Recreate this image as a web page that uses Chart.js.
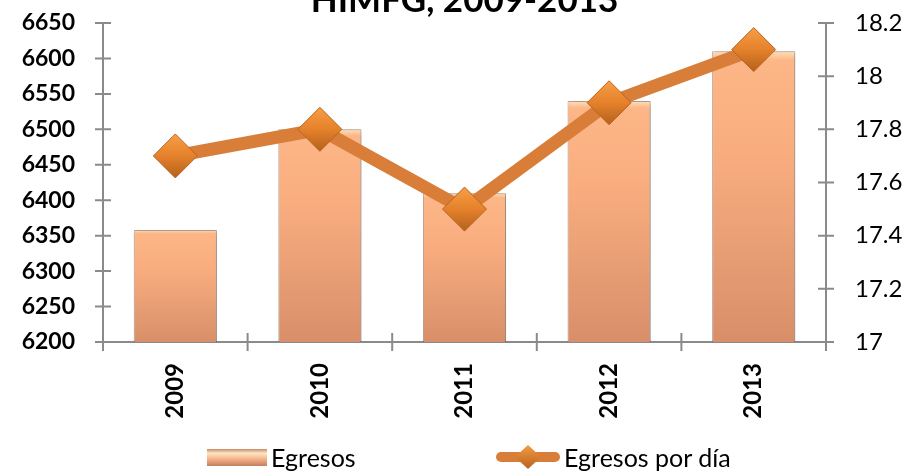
<!DOCTYPE html>
<html>
<head>
<meta charset="utf-8">
<script src="https://cdn.jsdelivr.net/npm/chart.js@4.4.1/dist/chart.umd.min.js"></script>
<style>
  html, body { margin: 0; padding: 0; background: #fff; }
  #wrap { position: relative; width: 908px; height: 471px; overflow: hidden; }
  #legend { position: absolute; left: 0; top: 0; width: 908px; height: 471px; pointer-events: none; }
  .item { position: absolute; top: 442px; display: flex; align-items: center; font-family: Lato, sans-serif; font-size: 25px; color: #000; white-space: nowrap; }
  .item canvas { margin-right: 4px; }
</style>
</head>
<body>
<div id="wrap">
  <canvas id="chart" width="908" height="471"></canvas>
  <div id="legend"></div>
</div>
<script>
const years = ["2009", "2010", "2011", "2012", "2013"];
const egresos = [6358, 6500, 6410, 6540, 6610];
const egresosPorDia = [17.7, 17.8, 17.5, 17.9, 18.1];
const leftAxis = [6200, 6650, 50];   // min, max, step
const rightAxis = [17, 18.2, 0.2];
const titleText = "HIMFG, 2009-2013";

const FONT = "Lato, 'Open Sans', sans-serif";
const AXIS_GREY = "#8a8a8a";
const NONE = "rgba(0,0,0,0)";

/* ===== per-bar gradient ===== */
function barFill(ctx) {
  const chart = ctx.chart;
  const area = chart.chartArea;
  if (!area || ctx.parsed === undefined) return "#f3a97c";
  const top = chart.scales.y.getPixelForValue(ctx.parsed.y);
  const g = chart.ctx.createLinearGradient(0, top, 0, area.bottom);
  g.addColorStop(0, "#fde0b8");
  g.addColorStop(0.03, "#fdb687");
  g.addColorStop(0.35, "#f9ad7f");
  g.addColorStop(1, "#d88f69");
  return g;
}

function markerFill(ctx) {
  const chart = ctx.chart;
  if (!chart.chartArea || ctx.parsed === undefined) return "#e8852e";
  const y = chart.scales.y1.getPixelForValue(ctx.parsed.y);
  const g = chart.ctx.createLinearGradient(0, y - 20, 0, y + 20);
  g.addColorStop(0, "#f59c44");
  g.addColorStop(0.5, "#e5812b");
  g.addColorStop(1, "#b9641f");
  return g;
}

/* ===== tick marks crossing the axes (8px each side) ===== */
const crossTicks = {
  id: "crossTicks",
  beforeDatasetsDraw(chart) {
    const c = chart.ctx;
    const {x, y, y1} = chart.scales;
    const area = chart.chartArea;
    const len = 8;
    c.save();
    c.strokeStyle = AXIS_GREY;
    c.lineWidth = 2;
    c.beginPath();
    y.ticks.forEach(t => {
      const py = y.getPixelForValue(t.value);
      c.moveTo(area.left - len, py); c.lineTo(area.left + len, py);
    });
    y1.ticks.forEach(t => {
      const py = y1.getPixelForValue(t.value);
      c.moveTo(area.right + len, py); c.lineTo(area.right - len, py);
    });
    for (let i = 0; i <= years.length; i++) {
      const px = x.getPixelForValue(i - 0.5);
      c.moveTo(px, area.bottom + 9); c.lineTo(px, area.bottom - 9);
    }
    c.stroke();
    c.restore();
  }
};

/* ===== soft shadow under the bars ===== */
const barShadow = {
  id: "barShadow",
  beforeDatasetDraw(chart, args) {
    if (args.index !== 0) return;
    const c = chart.ctx;
    c.save();
    c.shadowColor = "rgba(0,0,0,0.35)";
    c.shadowBlur = 6;
    c.shadowOffsetX = 2;
    c.shadowOffsetY = 1;
  },
  afterDatasetDraw(chart, args) {
    if (args.index !== 0) return;
    chart.ctx.restore();
  }
};

const ctx = document.getElementById("chart").getContext("2d");

const chart = new Chart(ctx, {
  type: "bar",
  data: {
    labels: years,
    datasets: [{
      type: "bar",
      label: "Egresos",
      data: egresos,
      yAxisID: "y",
      backgroundColor: barFill,
      borderColor: "rgba(150,105,80,0.55)",
      borderWidth: 1,
      categoryPercentage: 1,
      barPercentage: 0.575,
      order: 2
    }, {
      type: "line",
      label: "Egresos por día",
      data: egresosPorDia,
      yAxisID: "y1",
      borderColor: "#d87e38",
      borderWidth: 13,
      pointStyle: "rectRot",
      pointRadius: 22,
      pointHoverRadius: 22,
      pointBackgroundColor: markerFill,
      pointBorderColor: "#b86420",
      pointBorderWidth: 1,
      tension: 0,
      order: 1
    }]
  },
  options: {
    responsive: false,
    animation: false,
    events: [],
    layout: { padding: { left: 0, right: 0, top: -17, bottom: 39 } },
    plugins: {
      legend: { display: false },
      tooltip: { enabled: false },
      title: {
        display: true,
        fullSize: false,
        text: titleText,
        color: "#000",
        font: { family: FONT, size: 35, weight: "bold", lineHeight: 1 },
        padding: { top: 0, bottom: 5 }
      }
    },
    scales: {
      x: {
        offset: true,
        grid: { display: true, drawOnChartArea: false, drawTicks: true, tickLength: 9, color: NONE, offset: true },
        border: { display: true, color: AXIS_GREY, width: 2 },
        ticks: { color: "#000", font: { family: FONT, size: 24, weight: "bold" }, minRotation: 90, maxRotation: 90, padding: 12 },
        afterFit(scale) { scale.height = 90; }
      },
      y: {
        position: "left",
        min: leftAxis[0],
        max: leftAxis[1],
        grid: { display: true, drawOnChartArea: false, drawTicks: true, tickLength: 28, color: NONE },
        border: { display: true, color: AXIS_GREY, width: 2 },
        ticks: {
          stepSize: leftAxis[2],
          color: "#000",
          font: { family: FONT, size: 23, weight: "bold" },
          padding: 0,
          callback: v => String(v)
        },
        afterFit(scale) { scale.width = 103; }
      },
      y1: {
        position: "right",
        min: rightAxis[0],
        max: rightAxis[1],
        grid: { display: true, drawOnChartArea: false, drawTicks: true, tickLength: 29, color: NONE },
        border: { display: true, color: AXIS_GREY, width: 2 },
        ticks: {
          stepSize: rightAxis[2],
          color: "#000",
          font: { family: FONT, size: 24 },
          padding: 0,
          callback: v => String(Number(v.toFixed(1)))
        },
        afterFit(scale) { scale.width = 82; }
      }
    }
  },
  plugins: [crossTicks, barShadow]
});

/* ===== HTML legend ===== */
function barIcon() {
  const cv = document.createElement("canvas");
  cv.width = 60; cv.height = 17;
  const c = cv.getContext("2d");
  const g = c.createLinearGradient(0, 0, 0, 17);
  g.addColorStop(0, "#c98a68");
  g.addColorStop(0.25, "#fde6c4");
  g.addColorStop(0.6, "#f6b188");
  g.addColorStop(1, "#c27f5c");
  c.fillStyle = g;
  c.fillRect(0, 0, 60, 17);
  return cv;
}

function lineIcon() {
  const cv = document.createElement("canvas");
  cv.width = 64; cv.height = 28;
  const c = cv.getContext("2d");
  c.strokeStyle = "#d87e38";
  c.lineWidth = 10;
  c.lineCap = "round";
  c.beginPath(); c.moveTo(5, 14); c.lineTo(59, 14); c.stroke();
  const g = c.createLinearGradient(0, 2, 0, 26);
  g.addColorStop(0, "#f49a42");
  g.addColorStop(1, "#b9641f");
  c.fillStyle = g;
  c.beginPath(); c.moveTo(32, 2); c.lineTo(45, 14); c.lineTo(32, 26); c.lineTo(19, 14); c.closePath(); c.fill();
  return cv;
}

const legendEl = document.getElementById("legend");
const legendLeft = [207, 496];
chart.data.datasets.forEach((ds, i) => {
  const item = document.createElement("div");
  item.className = "item";
  item.style.left = legendLeft[i] + "px";
  item.appendChild(i === 0 ? barIcon() : lineIcon());
  const span = document.createElement("span");
  span.textContent = ds.label;
  item.appendChild(span);
  legendEl.appendChild(item);
});
</script>
</body>
</html>
